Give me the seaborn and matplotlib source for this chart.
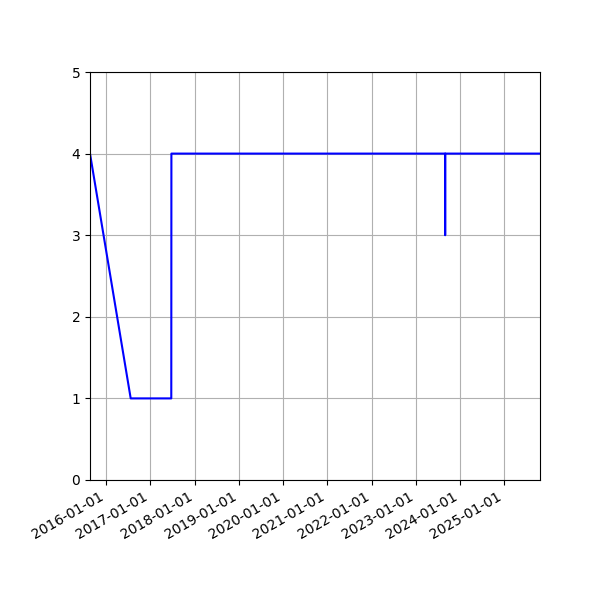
import matplotlib
matplotlib.use("Agg")
import matplotlib.pyplot as plt
import matplotlib.dates as mdates
import pandas as pd
import seaborn as sns

dates = ["2015-08-22", "2016-07-23", "2017-06-23", "2017-06-24",
         "2023-08-31", "2023-09-01", "2023-09-02", "2025-10-23"]
values = [4, 1, 1, 4, 4, 3, 4, 4]

df = pd.DataFrame({"date": pd.to_datetime(dates), "value": values})

fig, ax = plt.subplots(figsize=(6, 6), dpi=100)
sns.lineplot(data=df, x="date", y="value", color="blue", linewidth=1.5,
             estimator=None, sort=False, ax=ax)

ax.set_xlim(df["date"].min(), df["date"].max())
ax.set_ylim(0, 5)
ax.xaxis.set_major_locator(mdates.YearLocator())
ax.xaxis.set_major_formatter(mdates.DateFormatter("%Y-%m-%d"))
ax.grid(True)
ax.set_xlabel("")
ax.set_ylabel("")
fig.autofmt_xdate()
fig.subplots_adjust(left=0.15, right=0.9, top=0.88, bottom=0.2)

fig.savefig("out.png")
